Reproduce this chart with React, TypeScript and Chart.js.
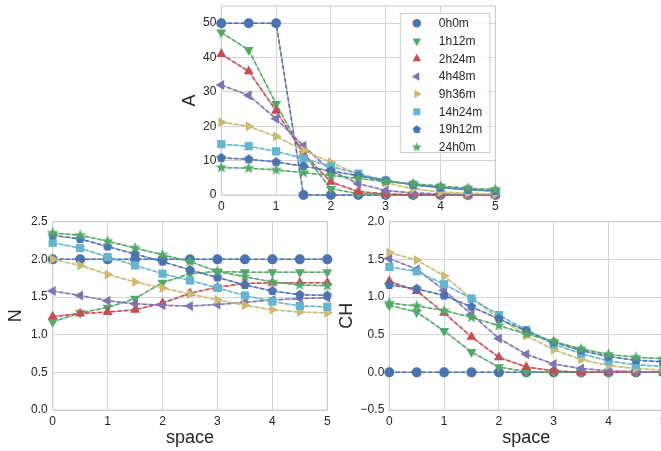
import React, { useEffect, useRef } from 'react';
import { Chart, registerables } from 'chart.js';
import { drawPoint } from 'chart.js/helpers';
Chart.register(...registerables);

Chart.defaults.font.family = '"Liberation Sans", Arial, sans-serif';

// ---------- data ----------
const space = [0, 0.5, 1, 1.5, 2, 2.5, 3, 3.5, 4, 4.5, 5];
const spaceTicks = [0, 1, 2, 3, 4, 5];
const times = ['0h0m', '1h12m', '2h24m', '4h48m', '9h36m', '14h24m', '19h12m', '24h0m'];
const colors = ['#4C72B0', '#55A868', '#C44E52', '#8172B2', '#CCB974', '#64B5CD', '#4C72B0', '#55A868'];

const A_0h0m = [50, 50, 50, 0, 0, 0, 0, 0, 0, 0, 0];
const A_1h12m = [47.3, 42.2, 26.5, 12, 1.8, 0.4, 0.1, 0, 0, 0, 0];
const A_2h24m = [41, 36, 24.5, 12, 3.8, 1, 0.3, 0.1, 0, 0, 0];
const A_4h48m = [32, 29, 22.2, 14.3, 7, 3.3, 1.3, 0.6, 0.3, 0.1, 0.05];
const A_9h36m = [21.2, 20, 17, 13, 9.5, 6, 3.6, 1.8, 0.9, 0.5, 0.3];
const A_14h24m = [14.8, 14.2, 12.7, 10.6, 8.3, 6.2, 4.2, 3.0, 2.1, 1.5, 1.1];
const A_19h12m = [10.8, 10.4, 9.6, 8.4, 7, 5.6, 4.2, 3.0, 2.2, 1.6, 1.2];
const A_24h0m = [8, 7.8, 7.3, 6.5, 5.7, 4.8, 3.9, 3.3, 2.6, 2.0, 1.6];
const A_series = [A_0h0m, A_1h12m, A_2h24m, A_4h48m, A_9h36m, A_14h24m, A_19h12m, A_24h0m];
const A_ticks = [0, 10, 20, 30, 40, 50];

const N_0h0m = [2.0, 2.0, 2.0, 2.0, 2.0, 2.0, 2.0, 2.0, 2.0, 2.0, 2.0];
const N_1h12m = [1.17, 1.29, 1.36, 1.48, 1.69, 1.81, 1.84, 1.83, 1.83, 1.83, 1.83];
const N_2h24m = [1.24, 1.28, 1.30, 1.33, 1.42, 1.55, 1.63, 1.68, 1.69, 1.69, 1.69];
const N_4h48m = [1.58, 1.52, 1.45, 1.41, 1.39, 1.38, 1.40, 1.43, 1.46, 1.48, 1.49];
const N_9h36m = [2.0, 1.92, 1.80, 1.70, 1.62, 1.54, 1.46, 1.39, 1.33, 1.30, 1.29];
const N_14h24m = [2.22, 2.15, 2.03, 1.92, 1.81, 1.72, 1.62, 1.52, 1.44, 1.38, 1.37];
const N_19h12m = [2.32, 2.27, 2.17, 2.07, 1.97, 1.86, 1.76, 1.66, 1.58, 1.53, 1.52];
const N_24h0m = [2.35, 2.32, 2.24, 2.15, 2.06, 1.97, 1.84, 1.77, 1.70, 1.66, 1.65];
const N_series = [N_0h0m, N_1h12m, N_2h24m, N_4h48m, N_9h36m, N_14h24m, N_19h12m, N_24h0m];
const N_ticks = [0, 0.5, 1, 1.5, 2, 2.5];

const CH_0h0m = [0, 0, 0, 0, 0, 0, 0, 0, 0, 0, 0];
const CH_1h12m = [0.89, 0.80, 0.55, 0.27, 0.07, 0.01, 0, 0, 0, 0, 0];
const CH_2h24m = [1.21, 1.08, 0.79, 0.47, 0.20, 0.07, 0.02, 0, 0, 0, 0];
const CH_4h48m = [1.51, 1.37, 1.09, 0.77, 0.45, 0.24, 0.11, 0.05, 0.02, 0.01, 0];
const CH_9h36m = [1.59, 1.49, 1.28, 0.98, 0.72, 0.49, 0.30, 0.17, 0.09, 0.05, 0.03];
const CH_14h24m = [1.40, 1.34, 1.17, 0.98, 0.76, 0.56, 0.37, 0.25, 0.15, 0.10, 0.08];
const CH_19h12m = [1.16, 1.11, 1.02, 0.87, 0.71, 0.55, 0.40, 0.29, 0.21, 0.16, 0.14];
const CH_24h0m = [0.92, 0.88, 0.82, 0.73, 0.62, 0.51, 0.41, 0.31, 0.24, 0.20, 0.18];
const CH_series = [CH_0h0m, CH_1h12m, CH_2h24m, CH_4h48m, CH_9h36m, CH_14h24m, CH_19h12m, CH_24h0m];
const CH_ticks = [-0.5, 0, 0.5, 1, 1.5, 2];

// ---------- marker helpers ----------
function polyCanvas(color: string, r: number, star: boolean): HTMLCanvasElement {
  const size = Math.ceil(2 * r + 2);
  const c = document.createElement('canvas');
  c.width = size;
  c.height = size;
  const ctx = c.getContext('2d')!;
  const cx = size / 2;
  const cy = size / 2;
  ctx.fillStyle = color;
  ctx.beginPath();
  const n = star ? 10 : 5;
  for (let i = 0; i < n; i++) {
    const ang = -Math.PI / 2 + (i * 2 * Math.PI) / n;
    const rr = star ? (i % 2 === 0 ? r : r * 0.42) : r;
    const px = cx + rr * Math.cos(ang);
    const py = cy + rr * Math.sin(ang);
    if (i === 0) ctx.moveTo(px, py);
    else ctx.lineTo(px, py);
  }
  ctx.closePath();
  ctx.fill();
  return c;
}

function markerFor(i: number, scale: number) {
  const c = colors[i];
  switch (i) {
    case 0: return { style: 'circle' as any, rot: 0, r: 5 * scale };
    case 1: return { style: 'triangle' as any, rot: 180, r: 5.8 * scale };
    case 2: return { style: 'triangle' as any, rot: 0, r: 5.8 * scale };
    case 3: return { style: 'triangle' as any, rot: 270, r: 5.8 * scale };
    case 4: return { style: 'triangle' as any, rot: 90, r: 5.8 * scale };
    case 5: return { style: 'rect' as any, rot: 0, r: 5.8 * scale };
    case 6: return { style: polyCanvas(c, 5 * scale, false) as any, rot: 0, r: 5 * scale };
    default: return { style: polyCanvas(c, 6.2 * scale, true) as any, rot: 0, r: 6 * scale };
  }
}

function withAlpha(hex: string, a: number) {
  const n = parseInt(hex.slice(1), 16);
  return `rgba(${(n >> 16) & 255},${(n >> 8) & 255},${n & 255},${a})`;
}

const GRID = '#d4d4d4';
const TEXT = '#262626';

// frame + dashed overlay plugin
const framePlugin = {
  id: 'frame',
  beforeDatasetsDraw(chart: any) {
    const { ctx, chartArea: ca } = chart;
    ctx.save();
    ctx.strokeStyle = '#cccccc';
    ctx.lineWidth = 1;
    ctx.strokeRect(ca.left, ca.top, ca.right - ca.left, ca.bottom - ca.top);
    ctx.restore();
  },
  afterDatasetDraw(chart: any, args: any) {
    const meta = args.meta;
    const ds = chart.data.datasets[args.index];
    const ctx = chart.ctx;
    ctx.save();
    ctx.strokeStyle = ds.dashColor;
    ctx.lineWidth = 1.5;
    ctx.setLineDash([4, 2.5]);
    ctx.beginPath();
    meta.data.forEach((p: any, k: number) => {
      if (k === 0) ctx.moveTo(p.x, p.y);
      else ctx.lineTo(p.x, p.y);
    });
    ctx.stroke();
    ctx.restore();
  },
};

const legendPlugin = {
  id: 'innerLegend',
  afterDraw(chart: any) {
    const opts = chart.options.plugins.innerLegend;
    if (!opts || !opts.show) return;
    const { ctx, chartArea: ca } = chart;
    const bx = ca.right - 95.5;
    const by = ca.top + 7;
    const bw = 89.5;
    const bh = 139;
    ctx.save();
    ctx.fillStyle = 'rgba(255,255,255,0.85)';
    ctx.fillRect(bx, by, bw, bh);
    ctx.strokeStyle = '#cccccc';
    ctx.lineWidth = 1;
    ctx.strokeRect(bx + 0.5, by + 0.5, bw, bh);
    ctx.font = '12px "Liberation Sans", Arial, sans-serif';
    ctx.textBaseline = 'middle';
    ctx.textAlign = 'left';
    times.forEach((t, i) => {
      const y = by + 10.3 + i * 17.7;
      const m = markerFor(i, 0.85);
      ctx.fillStyle = colors[i];
      ctx.strokeStyle = colors[i];
      drawPoint(ctx, { pointStyle: m.style, rotation: m.rot, radius: m.r, borderWidth: 0 } as any, bx + 17, y);
      ctx.fillStyle = TEXT;
      ctx.fillText(t, bx + 39, y + 0.5);
    });
    ctx.restore();
  },
};

interface PanelProps {
  left: number; top: number; width: number; height: number;
  series: number[][]; yTicks: number[]; yMin: number; yMax: number;
  yTitle: string; xTitle: string | null;
  pad: { left: number; top: number; right: number; bottom: number };
  yWidth: number; xHeight: number; legend: boolean; decimals: number;
}

function Panel(p: PanelProps) {
  const ref = useRef<HTMLCanvasElement>(null);
  useEffect(() => {
    const datasets = p.series.map((vals, i) => {
      const m = markerFor(i, 1);
      return {
        label: times[i],
        data: vals.map((v, k) => ({ x: space[k], y: v })),
        borderColor: withAlpha(colors[i], 0.55),
        dashColor: colors[i],
        backgroundColor: colors[i],
        borderWidth: 1.5,
        pointStyle: m.style,
        pointRotation: m.rot,
        pointRadius: m.r,
        pointBorderWidth: 0,
        pointBackgroundColor: colors[i],
        pointBorderColor: colors[i],
        tension: 0,
        clip: false as any,
        order: -i,
      };
    });
    const fmt = (v: number) => {
      const s = v.toFixed(p.decimals);
      return s.startsWith('-') ? '\u2212' + s.slice(1) : s;
    };
    const chart = new Chart(ref.current!, {
      type: 'line',
      data: { datasets: datasets as any },
      options: {
        animation: false,
        responsive: false,
        devicePixelRatio: 1,
        layout: { padding: p.pad },
        plugins: {
          legend: { display: false },
          tooltip: { enabled: false },
          innerLegend: { show: p.legend },
        } as any,
        scales: {
          x: {
            type: 'linear',
            min: 0,
            max: 5,
            afterBuildTicks: (s: any) => { s.ticks = spaceTicks.map((v) => ({ value: v })); },
            ticks: { font: { size: 12 }, color: TEXT, padding: 4, maxRotation: 0, callback: (v: any) => String(v) },
            grid: { color: GRID, drawTicks: false, lineWidth: 1 },
            border: { display: false },
            title: p.xTitle
              ? { display: true, text: p.xTitle, font: { size: 18 }, color: TEXT, padding: { top: 0, bottom: 2 } }
              : { display: false },
            afterFit: (s: any) => { s.height = p.xHeight; s.paddingLeft = 0; s.paddingRight = 0; },
          },
          y: {
            type: 'linear',
            min: p.yMin,
            max: p.yMax,
            afterBuildTicks: (s: any) => { s.ticks = p.yTicks.map((v) => ({ value: v })); },
            ticks: { font: { size: 12 }, color: TEXT, padding: 5, callback: (v: any) => fmt(Number(v)) },
            grid: { color: GRID, drawTicks: false, lineWidth: 1 },
            border: { display: false },
            title: { display: true, text: p.yTitle, font: { size: 18 }, color: TEXT, padding: { top: 0, bottom: 0 } },
            afterFit: (s: any) => { s.width = p.yWidth; s.paddingTop = 0; s.paddingBottom = 0; },
          },
        },
      } as any,
      plugins: [framePlugin, legendPlugin],
    });
    return () => chart.destroy();
  }, []);
  return (
    <canvas
      ref={ref}
      width={p.width}
      height={p.height}
      style={{ position: 'absolute', left: p.left, top: p.top, width: p.width, height: p.height }}
    />
  );
}

export default function App() {
  return (
    <div style={{ position: 'absolute', left: 0, top: 0, width: 661, height: 451, overflow: 'hidden', background: '#fff' }}>
      <Panel
        left={0} top={212} width={340} height={239}
        series={N_series} yTicks={N_ticks} yMin={0} yMax={2.5}
        yTitle="N" xTitle="space"
        pad={{ left: 5, top: 9.7, right: 12.7, bottom: 0 }}
        yWidth={47.7} xHeight={41} legend={false} decimals={1}
      />
      <Panel
        left={335} top={212} width={345} height={239}
        series={CH_series} yTicks={CH_ticks} yMin={-0.5} yMax={2.0}
        yTitle="CH" xTitle="space"
        pad={{ left: 1.2, top: 9.7, right: 16.7, bottom: 0 }}
        yWidth={53.1} xHeight={41} legend={false} decimals={1}
      />
      <Panel
        left={160} top={0} width={345} height={215}
        series={A_series} yTicks={A_ticks} yMin={0} yMax={55}
        yTitle="A" xTitle={null}
        pad={{ left: 19, top: 6, right: 9.7, bottom: 0 }}
        yWidth={42.3} xHeight={20} legend={true} decimals={0}
      />
    </div>
  );
}
